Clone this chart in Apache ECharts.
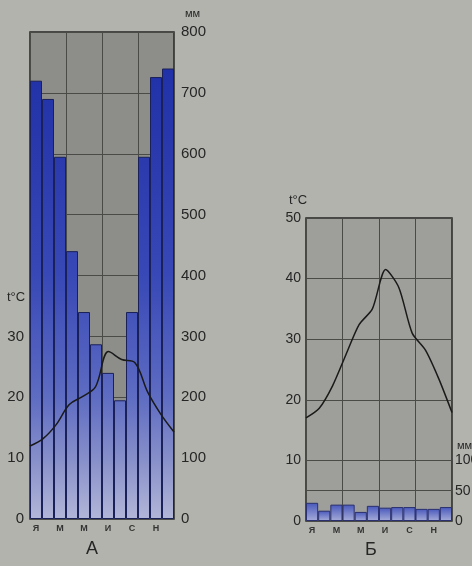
<!DOCTYPE html>
<html><head><meta charset="utf-8">
<script src="https://cdn.jsdelivr.net/npm/echarts@6/dist/echarts.min.js"></script>
<style>html,body{margin:0;padding:0;background:#b3b3ae}#c{width:472px;height:566px}</style>
</head><body><div id="c"></div>
<script>
// ---- data ----
const months = ['Я','Ф','М','А','М','И','И','А','С','О','Н','Д'];
const precipA = [720, 690, 595, 440, 340, 287, 240, 195, 340, 595, 726, 740];
const tempA = [12.0, 13.2, 15.5, 18.8, 20.1, 21.7, 27.5, 26.2, 25.7, 20.8, 17.2, 14.3];
const precipB = [30, 17, 27, 27, 15, 25, 22, 23, 23, 20, 20, 23];
const tempB = [17.0, 18.6, 22.3, 27.4, 32.4, 35.0, 41.5, 38.5, 31.0, 28.2, 23.5, 17.9];
const tempLabelMaxA = 30;   // left axis A labels shown 0..30
const precipLabelMaxB = 100; // right axis B labels shown 0..100

// ---- layout / style ----
const W = 472, H = 566;
const gA = {left: 30, right: 298, top: 32, bottom: 47};
const gB = {left: 306, right: 20, top: 218, bottom: 45};
const txt = '#262626';
const gridLineColor = '#4a4a47';
const font = 'Liberation Sans, Arial, sans-serif';

const gradA = new echarts.graphic.LinearGradient(0, gA.top, 0, H - gA.bottom, [
  {offset: 0, color: '#1e2ea4'},
  {offset: 0.1, color: '#2232a8'},
  {offset: 0.5, color: '#3848b6'},
  {offset: 0.75, color: '#5e6cc2'},
  {offset: 0.88, color: '#8890ca'},
  {offset: 1, color: '#b2b6d8'}
], true);
const gradB = new echarts.graphic.LinearGradient(0, 0, 0, 1, [
  {offset: 0, color: '#4858bc'},
  {offset: 1, color: '#a6acd8'}
]);

const chart = echarts.init(document.getElementById('c'), null, {renderer: 'canvas'});

const catAxis = (gi) => ({
  type: 'category', gridIndex: gi, data: months, boundaryGap: true,
  axisLine: {show: false}, axisTick: {show: false},
  axisLabel: {interval: 1, fontSize: 9, fontWeight: 'bold', color: '#333', fontFamily: font, margin: 5},
  splitLine: {show: false}
});
const lineAxis = (gi) => ({
  type: 'category', gridIndex: gi, data: months, boundaryGap: false, show: false
});
const quarterAxis = (gi) => ({
  type: 'value', gridIndex: gi, min: 0, max: 12, interval: 3, position: 'top',
  axisLine: {show: false}, axisTick: {show: false}, axisLabel: {show: false},
  splitLine: {show: true, lineStyle: {color: gridLineColor, width: 1}}
});

const option = {
  backgroundColor: '#b3b3ae',
  animation: false,
  grid: [
    Object.assign({show: true, outerBoundsMode: 'none', containLabel: false, backgroundColor: '#8d8d89', borderColor: '#262626', borderWidth: 1.5}, gA),
    Object.assign({show: true, outerBoundsMode: 'none', containLabel: false, backgroundColor: '#9e9e9a', borderColor: '#262626', borderWidth: 1.5}, gB)
  ],
  xAxis: [catAxis(0), lineAxis(0), quarterAxis(0), catAxis(1), lineAxis(1), quarterAxis(1)],
  yAxis: [
    { // A temperature
      type: 'value', gridIndex: 0, min: 0, max: 80, interval: 10, position: 'left',
      axisLine: {show: false}, axisTick: {show: false}, splitLine: {show: false},
      axisLabel: {color: txt, fontSize: 15, fontFamily: font, margin: 6,
        formatter: v => (v <= tempLabelMaxA ? String(v) : '')}
    },
    { // A precipitation
      type: 'value', gridIndex: 0, min: 0, max: 800, interval: 100, position: 'right',
      axisLine: {show: false}, axisTick: {show: false},
      splitLine: {show: true, lineStyle: {color: gridLineColor, width: 1}},
      axisLabel: {color: txt, fontSize: 15, fontFamily: font, margin: 7}
    },
    { // B temperature
      type: 'value', gridIndex: 1, min: 0, max: 50, interval: 10, position: 'left',
      axisLine: {show: false}, axisTick: {show: false},
      splitLine: {show: true, lineStyle: {color: gridLineColor, width: 1}},
      axisLabel: {color: txt, fontSize: 14, fontFamily: font, margin: 5}
    },
    { // B precipitation
      type: 'value', gridIndex: 1, min: 0, max: 500, interval: 50, position: 'right',
      axisLine: {show: false}, axisTick: {show: false},
      splitLine: {show: true, lineStyle: {width: 1,
        color: ['rgba(0,0,0,0)', gridLineColor, 'rgba(0,0,0,0)', 'rgba(0,0,0,0)', 'rgba(0,0,0,0)',
                'rgba(0,0,0,0)', 'rgba(0,0,0,0)', 'rgba(0,0,0,0)', 'rgba(0,0,0,0)', 'rgba(0,0,0,0)', 'rgba(0,0,0,0)']}},
      axisLabel: {color: txt, fontSize: 14, fontFamily: font, margin: 3,
        formatter: v => (v <= precipLabelMaxB ? String(v) : '')}
    }
  ],
  series: [
    {type: 'bar', xAxisIndex: 0, yAxisIndex: 1, data: precipA, barCategoryGap: '0%',
     itemStyle: {color: gradA, borderColor: '#1a2058', borderWidth: 1}},
    {type: 'line', xAxisIndex: 1, yAxisIndex: 0, data: tempA, smooth: 0.35, symbol: 'none', z: 5,
     lineStyle: {color: '#1a1a1a', width: 1.5}},
    {type: 'bar', xAxisIndex: 3, yAxisIndex: 3, data: precipB, barCategoryGap: '0%',
     itemStyle: {color: gradB, borderColor: '#2a3070', borderWidth: 1}},
    {type: 'line', xAxisIndex: 4, yAxisIndex: 2, data: tempB, smooth: 0.25, symbol: 'none', z: 5,
     lineStyle: {color: '#1a1a1a', width: 1.5}}
  ],
  graphic: [
    {type: 'text', left: 7, top: 291, style: {text: 't°C', font: '13px ' + font, fill: txt}},
    {type: 'text', left: 185, top: 8, style: {text: 'мм', font: '11px ' + font, fill: txt}},
    {type: 'text', left: 289, top: 194, style: {text: 't°C', font: '13px ' + font, fill: txt}},
    {type: 'text', left: 457, top: 440, style: {text: 'мм', font: '11px ' + font, fill: txt}},
    {type: 'text', left: 86, top: 540, style: {text: 'А', font: '18px ' + font, fill: txt}},
    {type: 'text', left: 365, top: 541, style: {text: 'Б', font: '18px ' + font, fill: txt}}
  ]
};
chart.setOption(option);
</script>
</body></html>
